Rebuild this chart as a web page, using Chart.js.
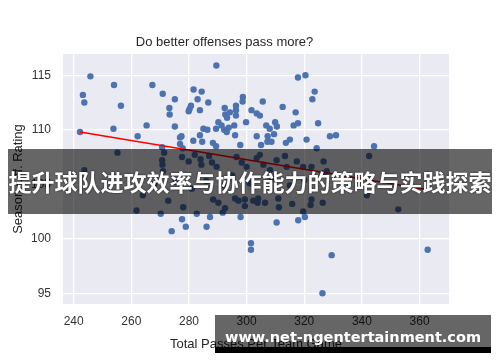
<!DOCTYPE html>
<html>
<head>
<meta charset="utf-8">
<script src="https://cdn.jsdelivr.net/npm/chart.js@4"></script>
<style>
  html, body { margin: 0; padding: 0; background: #fff; }
  #wrap { position: relative; width: 500px; height: 362px; overflow: hidden; }
  #banner {
    position: absolute; left: 8px; top: 149px; width: 484px; height: 65px;
    background: rgba(0,0,0,0.6); color: #fff;
    font-family: "Noto Sans CJK SC", sans-serif; font-weight: bold;
    font-size: 23px; line-height: 65px; text-align: center; white-space: nowrap;
    text-shadow: 0 0 2px rgba(0,0,0,0.8);
  }
  #mark {
    position: absolute; left: 215px; top: 315px; width: 276px; height: 32px;
    background: rgba(0,0,0,0.6); border-bottom: 6px solid #000; color: #fff;
    font-family: "DejaVu Sans", sans-serif; font-weight: bold;
    font-size: 14.5px; line-height: 44px; text-align: center; white-space: nowrap;
  }
</style>
</head>
<body>
<div id="wrap">
  <canvas id="chart" width="500" height="362"></canvas>
  <div id="banner">提升球队进攻效率与协作能力的策略与实践探索</div>
  <div id="mark">www.net-ngentertainment.com</div>
</div>
<script>
// =================== DATA ===================
const passes = [
  245.8, 289.5, 254.0, 267.3, 243.2, 243.7, 270.9, 275.1, 256.4, 281.6,
  284.4, 283.0, 286.7, 273.2, 273.3, 280.7, 280.2, 279.9, 283.8, 292.4,
  292.6, 294.2, 296.3, 296.3, 296.3, 298.7, 298.6, 301.7, 305.6, 303.5,
  304.6, 312.5, 317.0, 317.8, 320.4, 323.6, 322.8, 324.8, 299.8, 293.2,
  265.3, 306.8, 309.9, 310.5, 316.3, 317.8, 308.0, 242.2, 253.8, 275.1,
  262.2, 277.4, 276.9, 281.5, 283.8, 284.6, 285.0, 286.4, 288.3, 289.4,
  290.2, 291.3, 289.4, 292.2, 293.1, 293.8, 295.7, 296.0, 303.5, 305.0,
  307.2, 307.3, 308.6, 309.5, 313.6, 315.0, 324.3, 328.9, 331.0, 344.2,
  270.7, 277.8, 297.8, 320.8, 276.9,
  // under the banner
  255.2, 243.7, 270.7, 270.8, 271.0, 271.4, 264.0, 272.8, 277.6, 279.9,
  282.0, 284.0, 284.3, 287.0, 288.0, 289.6, 296.5, 298.3, 300.0, 303.5,
  304.6, 305.8, 308.1, 310.4, 313.3, 313.9, 317.4, 319.6, 322.5, 326.7,
  327.8, 342.5, 341.7, 352.6, 261.8, 278.0, 282.7, 288.4, 290.2, 292.5,
  296.0, 297.2, 299.4, 299.4, 302.3, 304.0, 303.8, 306.4, 311.0, 311.2,
  315.8, 319.6, 322.2, 322.5, 326.4, 326.4, 275.5, 281.0, 286.0, 292.0,
  295.0, 301.0, 309.0, 315.0, 320.0, 268.0,
  // below the banner
  270.2, 274.0, 277.6, 278.9, 286.1, 287.3, 291.7, 297.9, 301.5, 301.5,
  310.4, 317.9, 320.2, 326.3, 329.5, 362.8
];
const rating = [
  114.9, 115.9, 114.1, 114.1, 113.2, 112.5, 113.3, 112.8, 112.2, 113.7,
  113.5, 112.8, 112.5, 112.0, 111.4, 112.2, 111.9, 111.7, 111.8, 112.0,
  111.4, 111.6, 112.2, 111.8, 111.3, 113.0, 112.6, 111.8, 112.6, 111.5,
  111.3, 112.1, 111.6, 114.8, 115.0, 113.5, 112.8, 110.6, 110.7, 111.1,
  110.4, 110.4, 110.7, 110.3, 110.4, 110.6, 110.1, 109.8, 110.1, 110.3,
  109.4, 109.4, 108.7, 109.0, 109.5, 108.9, 110.1, 110.0, 108.8, 108.5,
  110.7, 110.4, 110.1, 110.0, 109.8, 110.2, 110.4, 109.5, 109.4, 108.6,
  108.9, 109.4, 108.9, 109.6, 108.8, 109.1, 108.3, 109.4, 109.5, 108.5,
  108.4, 108.3, 108.6, 109.1, 109.3,
  // under the banner
  107.9, 106.3, 107.2, 106.8, 106.2, 107.9, 104.0, 103.5, 107.5, 107.1,
  107.7, 107.3, 106.8, 107.6, 107.0, 106.6, 107.5, 107.0, 106.6, 107.4,
  107.7, 106.8, 106.3, 107.2, 107.6, 106.6, 107.1, 106.6, 106.6, 107.1,
  106.2, 107.6, 104.0, 102.7, 102.6, 102.9, 102.3, 103.6, 103.3, 102.8,
  103.7, 103.5, 103.6, 103.0, 103.5, 103.7, 103.3, 103.3, 103.7, 102.9,
  103.2, 102.5, 103.1, 103.6, 103.3, 106.0, 105.2, 104.6, 105.3, 104.9,
  105.8, 105.1, 105.5, 104.9, 105.4, 105.0,
  // below the banner
  102.3, 100.7, 101.8, 101.1, 101.1, 102.0, 102.4, 102.0, 99.6, 99.0,
  101.5, 101.7, 102.0, 95.0, 98.5, 99.0
];

// fitted trend line (ends)
const fitX = [242.2, 362.8];
const fitY = [109.8, 104.5];

const xTicks = [240, 260, 280, 300, 320, 340, 360];
const yTicks = [95, 100, 105, 110, 115];

// =================== CHART ===================
const TEXT = "#333333";
const FONT = "'Liberation Sans', Arial, sans-serif";

const plotBg = {
  id: "plotBg",
  beforeDraw(chart) {
    const { ctx, chartArea: a } = chart;
    ctx.save();
    ctx.fillStyle = "#eaeaf2";
    ctx.fillRect(a.left, a.top, a.right - a.left, a.bottom - a.top);
    ctx.restore();
  },
};

new Chart(document.getElementById("chart"), {
  type: "scatter",
  data: {
    datasets: [
      {
        type: "line",
        data: fitX.map((x, i) => ({ x, y: fitY[i] })),
        borderColor: "#ff0000",
        borderWidth: 1.5,
        pointRadius: 0,
        fill: false,
        order: 0,
      },
      {
        data: passes.map((x, i) => ({ x, y: rating[i] })),
        backgroundColor: "#4c72b0",
        borderWidth: 0,
        pointRadius: 3.2,
        order: 1,
      },
    ],
  },
  options: {
    responsive: false,
    animation: false,
    layout: { padding: { left: 0, right: 51, top: 0, bottom: 10 } },
    plugins: {
      legend: { display: false },
      tooltip: { enabled: false },
      title: {
        display: true,
        text: "Do better offenses pass more?",
        color: "#262626",
        font: { family: FONT, size: 13, weight: "normal" },
        padding: { top: 35, bottom: 3.4 },
      },
    },
    scales: {
      x: {
        type: "linear",
        min: 236.3,
        max: 370.2,
        afterBuildTicks: (s) => (s.ticks = xTicks.map((v) => ({ value: v }))),
        afterFit: (s) => (s.height = 48),
        border: { display: false },
        grid: { color: "#ffffff", lineWidth: 1.3, drawTicks: false },
        ticks: { color: TEXT, padding: 10, font: { family: FONT, size: 12 } },
        title: {
          display: true,
          text: "Total Passes Per Team Game",
          color: "#262626",
          font: { family: FONT, size: 13 },
          padding: { top: 0, bottom: 0 },
        },
      },
      y: {
        min: 94.02,
        max: 116.95,
        afterBuildTicks: (s) => (s.ticks = yTicks.map((v) => ({ value: v }))),
        afterFit: (s) => (s.width = 63),
        border: { display: false },
        grid: { color: "#ffffff", lineWidth: 1.3, drawTicks: false },
        ticks: { color: TEXT, padding: 12, font: { family: FONT, size: 12 } },
        title: {
          display: true,
          text: "Season Off. Rating",
          color: "#262626",
          font: { family: FONT, size: 13 },
          padding: { top: 10.5, bottom: 0 },
        },
      },
    },
  },
  plugins: [plotBg],
});
</script>
</body>
</html>
